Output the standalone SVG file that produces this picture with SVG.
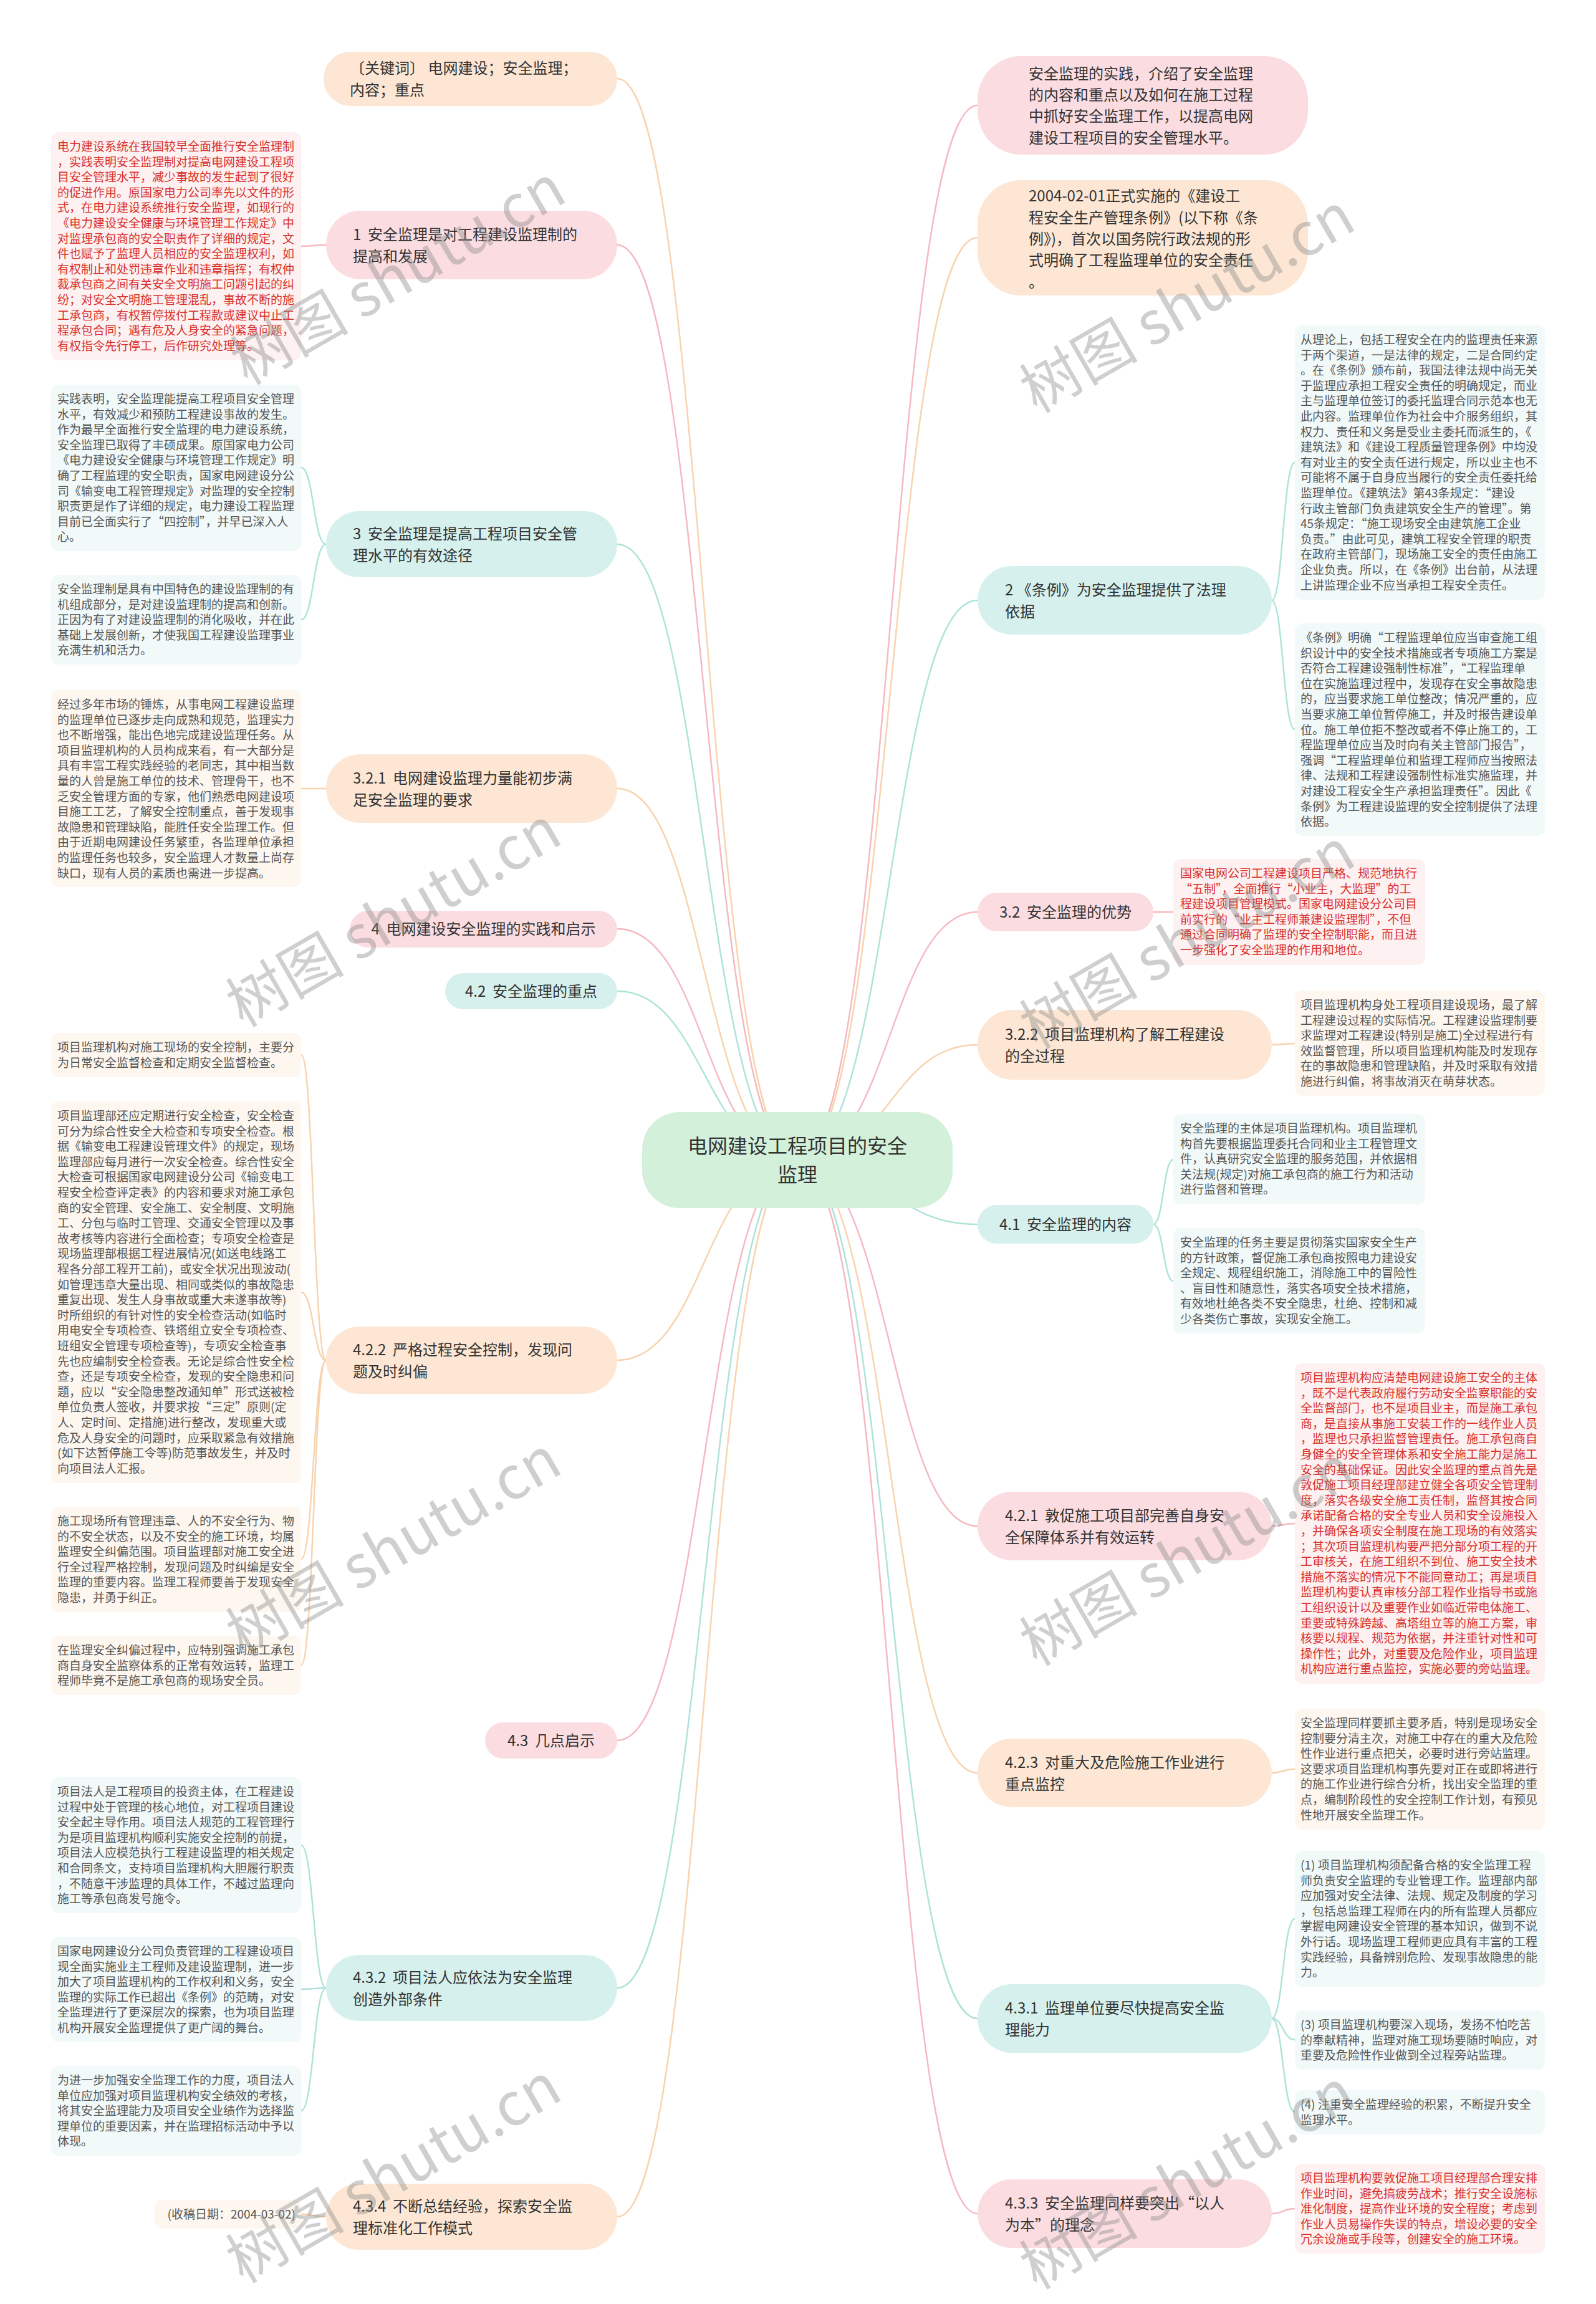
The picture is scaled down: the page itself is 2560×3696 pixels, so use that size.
<svg xmlns="http://www.w3.org/2000/svg" width="2560" height="3696" viewBox="0 0 2560 3696">
<style>
text{font-family:"Noto Sans CJK SC","Noto Sans",sans-serif;white-space:pre}
.nt{font-size:24px;fill:#333}
.rt{font-size:32px;fill:#333}
.lt{font-size:19px;fill:#555}
.lr{font-size:19px;fill:#d9302c}
.pk{fill:#fbdde1}
.pc{fill:#fde7d4}
.cy{fill:#d6f1ed}
.lpk{fill:#fdf1f1}
.lpc{fill:#fdf7f0}
.lcy{fill:#f1f9f9}
.cn path{fill:none;stroke-width:2.5}
.sp{stroke:#f5b9c1}
.sc{stroke:#f7d3ae}
.sy{stroke:#aee3d9}
.wm{font-size:95px;fill:#888;opacity:0.4}
</style>
<rect width="2560" height="3696" fill="#fff"/>
<g id="connectors" class="cn">
<path class="sc" d="M1279 1861 C1130 1861 1130 126 990 126"/>
<path class="sp" d="M1279 1861 C1130 1861 1130 393 990 393"/>
<path class="sy" d="M1279 1861 C1130 1861 1130 873 990 873"/>
<path class="sc" d="M1279 1861 C1130 1861 1130 1265 990 1265"/>
<path class="sp" d="M1279 1861 C1130 1861 1130 1490 990 1490"/>
<path class="sy" d="M1279 1861 C1130 1861 1130 1590 990 1590"/>
<path class="sc" d="M1279 1861 C1130 1861 1130 2182 990 2182"/>
<path class="sp" d="M1279 1861 C1130 1861 1130 2792 990 2792"/>
<path class="sy" d="M1279 1861 C1130 1861 1130 3189 990 3189"/>
<path class="sc" d="M1279 1861 C1130 1861 1130 3556 990 3556"/>
<path class="sp" d="M1279 1861 C1428 1861 1428 169 1568 169"/>
<path class="sc" d="M1279 1861 C1428 1861 1428 381 1568 381"/>
<path class="sy" d="M1279 1861 C1428 1861 1428 963 1568 963"/>
<path class="sp" d="M1279 1861 C1428 1861 1428 1463 1568 1463"/>
<path class="sc" d="M1279 1861 C1428 1861 1428 1676 1568 1676"/>
<path class="sy" d="M1279 1861 C1428 1861 1428 1964 1568 1964"/>
<path class="sp" d="M1279 1861 C1428 1861 1428 2448 1568 2448"/>
<path class="sc" d="M1279 1861 C1428 1861 1428 2844 1568 2844"/>
<path class="sy" d="M1279 1861 C1428 1861 1428 3238 1568 3238"/>
<path class="sp" d="M1279 1861 C1428 1861 1428 3551 1568 3551"/>
<path class="sp" d="M523 393 C503 393 503 395 483 395"/>
<path class="sy" d="M523 873 C503 873 503 750 483 750"/>
<path class="sy" d="M523 873 C503 873 503 994 483 994"/>
<path class="sc" d="M523 1265 C503 1265 503 1265 483 1265"/>
<path class="sc" d="M523 2182 C503 2182 503 1692 483 1692"/>
<path class="sc" d="M523 2182 C503 2182 503 2073 483 2073"/>
<path class="sc" d="M523 2182 C503 2182 503 2501 483 2501"/>
<path class="sc" d="M523 2182 C503 2182 503 2671 483 2671"/>
<path class="sy" d="M523 3189 C503 3189 503 2960 483 2960"/>
<path class="sy" d="M523 3189 C503 3189 503 3191 483 3191"/>
<path class="sy" d="M523 3189 C503 3189 503 3386 483 3386"/>
<path class="sc" d="M523 3556 C503 3556 503 3552 483 3552"/>
<path class="sy" d="M2040 963 C2058 963 2058 742 2077 742"/>
<path class="sy" d="M2040 963 C2058 963 2058 1170 2077 1170"/>
<path class="sp" d="M1850 1463 C1866 1463 1866 1463 1882 1463"/>
<path class="sc" d="M2040 1676 C2058 1676 2058 1674 2077 1674"/>
<path class="sy" d="M1850 1964 C1866 1964 1866 1860 1882 1860"/>
<path class="sy" d="M1850 1964 C1866 1964 1866 2055 1882 2055"/>
<path class="sp" d="M2040 2448 C2058 2448 2058 2444 2077 2444"/>
<path class="sc" d="M2040 2844 C2058 2844 2058 2838 2077 2838"/>
<path class="sy" d="M2040 3238 C2058 3238 2058 3078 2077 3078"/>
<path class="sy" d="M2040 3238 C2058 3238 2058 3272 2077 3272"/>
<path class="sy" d="M2040 3238 C2058 3238 2058 3388 2077 3388"/>
<path class="sp" d="M2040 3551 C2058 3551 2058 3543 2077 3543"/>
</g>
<g id="root">
<rect x="1030" y="1784" width="498" height="154" rx="60" fill="#d3f0da"/>
<text class="rt" text-anchor="middle" x="1279" y="1850">电网建设工程项目的安全<tspan x="1279" y="1896">监理</tspan></text>
</g>
<g id="nL0"><rect class="pc" x="519" y="83" width="471" height="87" rx="43.5"/>
<text class="nt" x="561" y="118">〔关键词〕 电网建设；安全监理；<tspan x="561" y="153">内容；重点</tspan></text></g>
<g id="nL1"><rect class="pk" x="523" y="338" width="467" height="110" rx="55"/>
<text class="nt" x="566" y="385">1  安全监理是对工程建设监理制的<tspan x="566" y="420">提高和发展</tspan></text></g>
<g id="nL2"><rect class="cy" x="523" y="820" width="467" height="106" rx="53"/>
<text class="nt" x="566" y="865">3  安全监理是提高工程项目安全管<tspan x="566" y="900">理水平的有效途径</tspan></text></g>
<g id="nL3"><rect class="pc" x="523" y="1210" width="467" height="110" rx="55"/>
<text class="nt" x="566" y="1257">3.2.1  电网建设监理力量能初步满<tspan x="566" y="1292">足安全监理的要求</tspan></text></g>
<g id="nL4"><rect class="pk" x="561" y="1461" width="429" height="59" rx="29.5"/>
<text class="nt" text-anchor="middle" x="775.5" y="1499">4  电网建设安全监理的实践和启示</text></g>
<g id="nL5"><rect class="cy" x="714" y="1561" width="276" height="58" rx="29"/>
<text class="nt" text-anchor="middle" x="852" y="1599">4.2  安全监理的重点</text></g>
<g id="nL6"><rect class="pc" x="523" y="2128" width="467" height="108" rx="54"/>
<text class="nt" x="566" y="2174">4.2.2  严格过程安全控制，发现问<tspan x="566" y="2209">题及时纠偏</tspan></text></g>
<g id="nL7"><rect class="pk" x="778" y="2763" width="212" height="58" rx="29"/>
<text class="nt" text-anchor="middle" x="884" y="2801">4.3  几点启示</text></g>
<g id="nL8"><rect class="cy" x="523" y="3136" width="467" height="106" rx="53"/>
<text class="nt" x="566" y="3181">4.3.2  项目法人应依法为安全监理<tspan x="566" y="3216">创造外部条件</tspan></text></g>
<g id="nL9"><rect class="pc" x="523" y="3503" width="467" height="106" rx="53"/>
<text class="nt" x="566" y="3548">4.3.4  不断总结经验，探索安全监<tspan x="566" y="3583">理标准化工作模式</tspan></text></g>
<g id="nR0"><rect class="pk" x="1568" y="90" width="530" height="158" rx="70"/>
<text class="nt" x="1650" y="127">安全监理的实践，介绍了安全监理<tspan x="1650" y="161">的内容和重点以及如何在施工过程</tspan><tspan x="1650" y="195">中抓好安全监理工作，以提高电网</tspan><tspan x="1650" y="230">建设工程项目的安全管理水平。</tspan></text></g>
<g id="nR1"><rect class="pc" x="1568" y="289" width="530" height="185" rx="70"/>
<text class="nt" x="1650" y="323">2004-02-01正式实施的《建设工<tspan x="1650" y="358">程安全生产管理条例》(以下称《条</tspan><tspan x="1650" y="392">例》)，首次以国务院行政法规的形</tspan><tspan x="1650" y="426">式明确了工程监理单位的安全责任</tspan><tspan x="1650" y="461">。</tspan></text></g>
<g id="nR2"><rect class="cy" x="1568" y="908" width="472" height="110" rx="55"/>
<text class="nt" x="1612" y="955">2 《条例》为安全监理提供了法理<tspan x="1612" y="990">依据</tspan></text></g>
<g id="nR3"><rect class="pk" x="1568" y="1432" width="282" height="62" rx="31"/>
<text class="nt" text-anchor="middle" x="1709" y="1472">3.2  安全监理的优势</text></g>
<g id="nR4"><rect class="pc" x="1568" y="1620" width="472" height="112" rx="56"/>
<text class="nt" x="1612" y="1668">3.2.2  项目监理机构了解工程建设<tspan x="1612" y="1703">的全过程</tspan></text></g>
<g id="nR5"><rect class="cy" x="1568" y="1933" width="282" height="62" rx="31"/>
<text class="nt" text-anchor="middle" x="1709" y="1973">4.1  安全监理的内容</text></g>
<g id="nR6"><rect class="pk" x="1568" y="2393" width="472" height="110" rx="55"/>
<text class="nt" x="1612" y="2440">4.2.1  敦促施工项目部完善自身安<tspan x="1612" y="2475">全保障体系并有效运转</tspan></text></g>
<g id="nR7"><rect class="pc" x="1568" y="2789" width="472" height="110" rx="55"/>
<text class="nt" x="1612" y="2836">4.2.3  对重大及危险施工作业进行<tspan x="1612" y="2871">重点监控</tspan></text></g>
<g id="nR8"><rect class="cy" x="1568" y="3183" width="472" height="110" rx="55"/>
<text class="nt" x="1612" y="3230">4.3.1  监理单位要尽快提高安全监<tspan x="1612" y="3265">理能力</tspan></text></g>
<g id="nR9"><rect class="pk" x="1568" y="3496" width="472" height="110" rx="55"/>
<text class="nt" x="1612" y="3543">4.3.3  安全监理同样要突出“以人<tspan x="1612" y="3578">为本”的理念</tspan></text></g>
<g id="leafL1"><rect class="lpk" x="82" y="212" width="401" height="366" rx="12"/>
<text class="lr" x="92" y="242">电力建设系统在我国较早全面推行安全监理制<tspan x="92" dy="24.6">，实践表明安全监理制对提高电网建设工程项</tspan><tspan x="92" dy="24.6">目安全管理水平，减少事故的发生起到了很好</tspan><tspan x="92" dy="24.6">的促进作用。原国家电力公司率先以文件的形</tspan><tspan x="92" dy="24.6">式，在电力建设系统推行安全监理，如现行的</tspan><tspan x="92" dy="24.6">《电力建设安全健康与环境管理工作规定》中</tspan><tspan x="92" dy="24.6">对监理承包商的安全职责作了详细的规定，文</tspan><tspan x="92" dy="24.6">件也赋予了监理人员相应的安全监理权利，如</tspan><tspan x="92" dy="24.6">有权制止和处罚违章作业和违章指挥；有权仲</tspan><tspan x="92" dy="24.6">裁承包商之间有关安全文明施工问题引起的纠</tspan><tspan x="92" dy="24.6">纷；对安全文明施工管理混乱，事故不断的施</tspan><tspan x="92" dy="24.6">工承包商，有权暂停拨付工程款或建议中止工</tspan><tspan x="92" dy="24.6">程承包合同；遇有危及人身安全的紧急问题，</tspan><tspan x="92" dy="24.6">有权指令先行停工，后作研究处理等。</tspan></text></g>
<g id="leafL2"><rect class="lcy" x="82" y="617" width="401" height="267" rx="12"/>
<text class="lt" x="92" y="647">实践表明，安全监理能提高工程项目安全管理<tspan x="92" dy="24.6">水平，有效减少和预防工程建设事故的发生。</tspan><tspan x="92" dy="24.6">作为最早全面推行安全监理的电力建设系统，</tspan><tspan x="92" dy="24.6">安全监理已取得了丰硕成果。原国家电力公司</tspan><tspan x="92" dy="24.6">《电力建设安全健康与环境管理工作规定》明</tspan><tspan x="92" dy="24.6">确了工程监理的安全职责，国家电网建设分公</tspan><tspan x="92" dy="24.6">司《输变电工程管理规定》对监理的安全控制</tspan><tspan x="92" dy="24.6">职责更是作了详细的规定，电力建设工程监理</tspan><tspan x="92" dy="24.6">目前已全面实行了“四控制”，并早已深入人</tspan><tspan x="92" dy="24.6">心。</tspan></text></g>
<g id="leafL3"><rect class="lcy" x="82" y="922" width="401" height="144" rx="12"/>
<text class="lt" x="92" y="952">安全监理制是具有中国特色的建设监理制的有<tspan x="92" dy="24.6">机组成部分，是对建设监理制的提高和创新。</tspan><tspan x="92" dy="24.6">正因为有了对建设监理制的消化吸收，并在此</tspan><tspan x="92" dy="24.6">基础上发展创新，才使我国工程建设监理事业</tspan><tspan x="92" dy="24.6">充满生机和活力。</tspan></text></g>
<g id="leafL4"><rect class="lpc" x="82" y="1107" width="401" height="316" rx="12"/>
<text class="lt" x="92" y="1137">经过多年市场的锤炼，从事电网工程建设监理<tspan x="92" dy="24.6">的监理单位已逐步走向成熟和规范，监理实力</tspan><tspan x="92" dy="24.6">也不断增强，能出色地完成建设监理任务。从</tspan><tspan x="92" dy="24.6">项目监理机构的人员构成来看，有一大部分是</tspan><tspan x="92" dy="24.6">具有丰富工程实践经验的老同志，其中相当数</tspan><tspan x="92" dy="24.6">量的人曾是施工单位的技术、管理骨干，也不</tspan><tspan x="92" dy="24.6">乏安全管理方面的专家，他们熟悉电网建设项</tspan><tspan x="92" dy="24.6">目施工工艺，了解安全控制重点，善于发现事</tspan><tspan x="92" dy="24.6">故隐患和管理缺陷，能胜任安全监理工作。但</tspan><tspan x="92" dy="24.6">由于近期电网建设任务繁重，各监理单位承担</tspan><tspan x="92" dy="24.6">的监理任务也较多，安全监理人才数量上尚存</tspan><tspan x="92" dy="24.6">缺口，现有人员的素质也需进一步提高。</tspan></text></g>
<g id="leafL5"><rect class="lpc" x="82" y="1657" width="401" height="71" rx="12"/>
<text class="lt" x="92" y="1687">项目监理机构对施工现场的安全控制，主要分<tspan x="92" dy="24.6">为日常安全监督检查和定期安全监督检查。</tspan></text></g>
<g id="leafL6"><rect class="lpc" x="82" y="1767" width="401" height="612" rx="12"/>
<text class="lt" x="92" y="1797">项目监理部还应定期进行安全检查，安全检查<tspan x="92" dy="24.6">可分为综合性安全大检查和专项安全检查。根</tspan><tspan x="92" dy="24.6">据《输变电工程建设管理文件》的规定，现场</tspan><tspan x="92" dy="24.6">监理部应每月进行一次安全检查。综合性安全</tspan><tspan x="92" dy="24.6">大检查可根据国家电网建设分公司《输变电工</tspan><tspan x="92" dy="24.6">程安全检查评定表》的内容和要求对施工承包</tspan><tspan x="92" dy="24.6">商的安全管理、安全施工、安全制度、文明施</tspan><tspan x="92" dy="24.6">工、分包与临时工管理、交通安全管理以及事</tspan><tspan x="92" dy="24.6">故考核等内容进行全面检查；专项安全检查是</tspan><tspan x="92" dy="24.6">现场监理部根据工程进展情况(如送电线路工</tspan><tspan x="92" dy="24.6">程各分部工程开工前)，或安全状况出现波动(</tspan><tspan x="92" dy="24.6">如管理违章大量出现、相同或类似的事故隐患</tspan><tspan x="92" dy="24.6">重复出现、发生人身事故或重大未遂事故等)</tspan><tspan x="92" dy="24.6">时所组织的有针对性的安全检查活动(如临时</tspan><tspan x="92" dy="24.6">用电安全专项检查、铁塔组立安全专项检查、</tspan><tspan x="92" dy="24.6">班组安全管理专项检查等)，专项安全检查事</tspan><tspan x="92" dy="24.6">先也应编制安全检查表。无论是综合性安全检</tspan><tspan x="92" dy="24.6">查，还是专项安全检查，发现的安全隐患和问</tspan><tspan x="92" dy="24.6">题，应以“安全隐患整改通知单”形式送被检</tspan><tspan x="92" dy="24.6">单位负责人签收，并要求按“三定”原则(定</tspan><tspan x="92" dy="24.6">人、定时间、定措施)进行整改，发现重大或</tspan><tspan x="92" dy="24.6">危及人身安全的问题时，应采取紧急有效措施</tspan><tspan x="92" dy="24.6">(如下达暂停施工令等)防范事故发生，并及时</tspan><tspan x="92" dy="24.6">向项目法人汇报。</tspan></text></g>
<g id="leafL7"><rect class="lpc" x="82" y="2417" width="401" height="169" rx="12"/>
<text class="lt" x="92" y="2447">施工现场所有管理违章、人的不安全行为、物<tspan x="92" dy="24.6">的不安全状态，以及不安全的施工环境，均属</tspan><tspan x="92" dy="24.6">监理安全纠偏范围。项目监理部对施工安全进</tspan><tspan x="92" dy="24.6">行全过程严格控制，发现问题及时纠编是安全</tspan><tspan x="92" dy="24.6">监理的重要内容。监理工程师要善于发现安全</tspan><tspan x="92" dy="24.6">隐患，并勇于纠正。</tspan></text></g>
<g id="leafL8"><rect class="lpc" x="82" y="2624" width="401" height="95" rx="12"/>
<text class="lt" x="92" y="2654">在监理安全纠偏过程中，应特别强调施工承包<tspan x="92" dy="24.6">商自身安全监察体系的正常有效运转，监理工</tspan><tspan x="92" dy="24.6">程师毕竟不是施工承包商的现场安全员。</tspan></text></g>
<g id="leafL9"><rect class="lcy" x="82" y="2851" width="401" height="218" rx="12"/>
<text class="lt" x="92" y="2881">项目法人是工程项目的投资主体，在工程建设<tspan x="92" dy="24.6">过程中处于管理的核心地位，对工程项目建设</tspan><tspan x="92" dy="24.6">安全起主导作用。项目法人规范的工程管理行</tspan><tspan x="92" dy="24.6">为是项目监理机构顺利实施安全控制的前提，</tspan><tspan x="92" dy="24.6">项目法人应模范执行工程建设监理的相关规定</tspan><tspan x="92" dy="24.6">和合同条文，支持项目监理机构大胆履行职责</tspan><tspan x="92" dy="24.6">，不随意干涉监理的具体工作，不越过监理向</tspan><tspan x="92" dy="24.6">施工等承包商发号施令。</tspan></text></g>
<g id="leafL10"><rect class="lcy" x="82" y="3107" width="401" height="169" rx="12"/>
<text class="lt" x="92" y="3137">国家电网建设分公司负责管理的工程建设项目<tspan x="92" dy="24.6">现全面实施业主工程师及建设监理制，进一步</tspan><tspan x="92" dy="24.6">加大了项目监理机构的工作权利和义务，安全</tspan><tspan x="92" dy="24.6">监理的实际工作已超出《条例》的范畴，对安</tspan><tspan x="92" dy="24.6">全监理进行了更深层次的探索，也为项目监理</tspan><tspan x="92" dy="24.6">机构开展安全监理提供了更广阔的舞台。</tspan></text></g>
<g id="leafL11"><rect class="lcy" x="82" y="3314" width="401" height="144" rx="12"/>
<text class="lt" x="92" y="3344">为进一步加强安全监理工作的力度，项目法人<tspan x="92" dy="24.6">单位应加强对项目监理机构安全绩效的考核，</tspan><tspan x="92" dy="24.6">将其安全监理能力及项目安全业绩作为选择监</tspan><tspan x="92" dy="24.6">理单位的重要因素，并在监理招标活动中予以</tspan><tspan x="92" dy="24.6">体现。</tspan></text></g>
<g id="leafL12"><rect class="lpc" x="248" y="3529" width="235" height="46" rx="12"/>
<text class="lt" text-anchor="end" x="474" y="3559">(收稿日期：2004-03-02)</text></g>
<g id="leafR1"><rect class="lcy" x="2077" y="522" width="401" height="440" rx="12"/>
<text class="lt" x="2086" y="552">从理论上，包括工程安全在内的监理责任来源<tspan x="2086" dy="24.6">于两个渠道，一是法律的规定，二是合同约定</tspan><tspan x="2086" dy="24.6">。在《条例》颁布前，我国法律法规中尚无关</tspan><tspan x="2086" dy="24.6">于监理应承担工程安全责任的明确规定，而业</tspan><tspan x="2086" dy="24.6">主与监理单位签订的委托监理合同示范本也无</tspan><tspan x="2086" dy="24.6">此内容。监理单位作为社会中介服务组织，其</tspan><tspan x="2086" dy="24.6">权力、责任和义务是受业主委托而派生的，《</tspan><tspan x="2086" dy="24.6">建筑法》和《建设工程质量管理条例》中均没</tspan><tspan x="2086" dy="24.6">有对业主的安全责任进行规定，所以业主也不</tspan><tspan x="2086" dy="24.6">可能将不属于自身应当履行的安全责任委托给</tspan><tspan x="2086" dy="24.6">监理单位。《建筑法》第43条规定：“建设</tspan><tspan x="2086" dy="24.6">行政主管部门负责建筑安全生产的管理”。第</tspan><tspan x="2086" dy="24.6">45条规定：“施工现场安全由建筑施工企业</tspan><tspan x="2086" dy="24.6">负责。”由此可见，建筑工程安全管理的职责</tspan><tspan x="2086" dy="24.6">在政府主管部门，现场施工安全的责任由施工</tspan><tspan x="2086" dy="24.6">企业负责。所以，在《条例》出台前，从法理</tspan><tspan x="2086" dy="24.6">上讲监理企业不应当承担工程安全责任。</tspan></text></g>
<g id="leafR2"><rect class="lcy" x="2077" y="1000" width="401" height="341" rx="12"/>
<text class="lt" x="2086" y="1030">《条例》明确“工程监理单位应当审查施工组<tspan x="2086" dy="24.6">织设计中的安全技术措施或者专项施工方案是</tspan><tspan x="2086" dy="24.6">否符合工程建设强制性标准”，“工程监理单</tspan><tspan x="2086" dy="24.6">位在实施监理过程中，发现存在安全事故隐患</tspan><tspan x="2086" dy="24.6">的，应当要求施工单位整改；情况严重的，应</tspan><tspan x="2086" dy="24.6">当要求施工单位暂停施工，并及时报告建设单</tspan><tspan x="2086" dy="24.6">位。施工单位拒不整改或者不停止施工的，工</tspan><tspan x="2086" dy="24.6">程监理单位应当及时向有关主管部门报告”，</tspan><tspan x="2086" dy="24.6">强调“工程监理单位和监理工程师应当按照法</tspan><tspan x="2086" dy="24.6">律、法规和工程建设强制性标准实施监理，并</tspan><tspan x="2086" dy="24.6">对建设工程安全生产承担监理责任”。因此《</tspan><tspan x="2086" dy="24.6">条例》为工程建设监理的安全控制提供了法理</tspan><tspan x="2086" dy="24.6">依据。</tspan></text></g>
<g id="leafR3"><rect class="lpk" x="1882" y="1378" width="404" height="170" rx="12"/>
<text class="lr" x="1893" y="1408">国家电网公司工程建设项目严格、规范地执行<tspan x="1893" dy="24.6">“五制”，全面推行“小业主，大监理”的工</tspan><tspan x="1893" dy="24.6">程建设项目管理模式。国家电网建设分公司目</tspan><tspan x="1893" dy="24.6">前实行的“业主工程师兼建设监理制”，不但</tspan><tspan x="1893" dy="24.6">通过合同明确了监理的安全控制职能，而且进</tspan><tspan x="1893" dy="24.6">一步强化了安全监理的作用和地位。</tspan></text></g>
<g id="leafR4"><rect class="lpc" x="2077" y="1589" width="401" height="169" rx="12"/>
<text class="lt" x="2086" y="1619">项目监理机构身处工程项目建设现场，最了解<tspan x="2086" dy="24.6">工程建设过程的实际情况。工程建设监理制要</tspan><tspan x="2086" dy="24.6">求监理对工程建设(特别是施工)全过程进行有</tspan><tspan x="2086" dy="24.6">效监督管理，所以项目监理机构能及时发现存</tspan><tspan x="2086" dy="24.6">在的事故隐患和管理缺陷，并及时采取有效措</tspan><tspan x="2086" dy="24.6">施进行纠偏，将事故消灭在萌芽状态。</tspan></text></g>
<g id="leafR5"><rect class="lcy" x="1882" y="1787" width="404" height="145" rx="12"/>
<text class="lt" x="1893" y="1817">安全监理的主体是项目监理机构。项目监理机<tspan x="1893" dy="24.6">构首先要根据监理委托合同和业主工程管理文</tspan><tspan x="1893" dy="24.6">件，认真研究安全监理的服务范围，并依据相</tspan><tspan x="1893" dy="24.6">关法规(规定)对施工承包商的施工行为和活动</tspan><tspan x="1893" dy="24.6">进行监督和管理。</tspan></text></g>
<g id="leafR6"><rect class="lcy" x="1882" y="1970" width="404" height="169" rx="12"/>
<text class="lt" x="1893" y="2000">安全监理的任务主要是贯彻落实国家安全生产<tspan x="1893" dy="24.6">的方针政策，督促施工承包商按照电力建设安</tspan><tspan x="1893" dy="24.6">全规定、规程组织施工，消除施工中的冒险性</tspan><tspan x="1893" dy="24.6">、盲目性和随意性，落实各项安全技术措施，</tspan><tspan x="1893" dy="24.6">有效地杜绝各类不安全隐患，杜绝、控制和减</tspan><tspan x="1893" dy="24.6">少各类伤亡事故，实现安全施工。</tspan></text></g>
<g id="leafR7"><rect class="lpk" x="2077" y="2187" width="401" height="514" rx="12"/>
<text class="lr" x="2086" y="2217">项目监理机构应清楚电网建设施工安全的主体<tspan x="2086" dy="24.6">，既不是代表政府履行劳动安全监察职能的安</tspan><tspan x="2086" dy="24.6">全监督部门，也不是项目业主，而是施工承包</tspan><tspan x="2086" dy="24.6">商，是直接从事施工安装工作的一线作业人员</tspan><tspan x="2086" dy="24.6">，监理也只承担监督管理责任。施工承包商自</tspan><tspan x="2086" dy="24.6">身健全的安全管理体系和安全施工能力是施工</tspan><tspan x="2086" dy="24.6">安全的基础保证。因此安全监理的重点首先是</tspan><tspan x="2086" dy="24.6">敦促施工项目经理部建立健全各项安全管理制</tspan><tspan x="2086" dy="24.6">度，落实各级安全施工责任制，监督其按合同</tspan><tspan x="2086" dy="24.6">承诺配备合格的安全专业人员和安全设施投入</tspan><tspan x="2086" dy="24.6">，并确保各项安全制度在施工现场的有效落实</tspan><tspan x="2086" dy="24.6">；其次项目监理机构要严把分部分项工程的开</tspan><tspan x="2086" dy="24.6">工审核关，在施工组织不到位、施工安全技术</tspan><tspan x="2086" dy="24.6">措施不落实的情况下不能同意动工；再是项目</tspan><tspan x="2086" dy="24.6">监理机构要认真审核分部工程作业指导书或施</tspan><tspan x="2086" dy="24.6">工组织设计以及重要作业如临近带电体施工、</tspan><tspan x="2086" dy="24.6">重要或特殊跨越、高塔组立等的施工方案，审</tspan><tspan x="2086" dy="24.6">核要以规程、规范为依据，并注重针对性和可</tspan><tspan x="2086" dy="24.6">操作性；此外，对重要及危险作业，项目监理</tspan><tspan x="2086" dy="24.6">机构应进行重点监控，实施必要的旁站监理。</tspan></text></g>
<g id="leafR8"><rect class="lpc" x="2077" y="2741" width="401" height="194" rx="12"/>
<text class="lt" x="2086" y="2771">安全监理同样要抓主要矛盾，特别是现场安全<tspan x="2086" dy="24.6">控制要分清主次，对施工中存在的重大及危险</tspan><tspan x="2086" dy="24.6">性作业进行重点把关，必要时进行旁站监理。</tspan><tspan x="2086" dy="24.6">这要求项目监理机构事先要对正在或即将进行</tspan><tspan x="2086" dy="24.6">的施工作业进行综合分析，找出安全监理的重</tspan><tspan x="2086" dy="24.6">点，编制阶段性的安全控制工作计划，有预见</tspan><tspan x="2086" dy="24.6">性地开展安全监理工作。</tspan></text></g>
<g id="leafR9"><rect class="lcy" x="2077" y="2969" width="401" height="218" rx="12"/>
<text class="lt" x="2086" y="2999">(1) 项目监理机构须配备合格的安全监理工程<tspan x="2086" dy="24.6">师负责安全监理的专业管理工作。监理部内部</tspan><tspan x="2086" dy="24.6">应加强对安全法律、法规、规定及制度的学习</tspan><tspan x="2086" dy="24.6">，包括总监理工程师在内的所有监理人员都应</tspan><tspan x="2086" dy="24.6">掌握电网建设安全管理的基本知识，做到不说</tspan><tspan x="2086" dy="24.6">外行话。现场监理工程师更应具有丰富的工程</tspan><tspan x="2086" dy="24.6">实践经验，具备辨别危险、发现事故隐患的能</tspan><tspan x="2086" dy="24.6">力。</tspan></text></g>
<g id="leafR10"><rect class="lcy" x="2077" y="3225" width="401" height="95" rx="12"/>
<text class="lt" x="2086" y="3255">(3) 项目监理机构要深入现场，发扬不怕吃苦<tspan x="2086" dy="24.6">的奉献精神，监理对施工现场要随时响应，对</tspan><tspan x="2086" dy="24.6">重要及危险性作业做到全过程旁站监理。</tspan></text></g>
<g id="leafR11"><rect class="lcy" x="2077" y="3353" width="401" height="71" rx="12"/>
<text class="lt" x="2086" y="3383">(4) 注重安全监理经验的积累，不断提升安全<tspan x="2086" dy="24.6">监理水平。</tspan></text></g>
<g id="leafR12"><rect class="lpk" x="2077" y="3471" width="401" height="144" rx="12"/>
<text class="lr" x="2086" y="3501">项目监理机构要敦促施工项目经理部合理安排<tspan x="2086" dy="24.6">作业时间，避免搞疲劳战术；推行安全设施标</tspan><tspan x="2086" dy="24.6">准化制度，提高作业环境的安全程度；考虑到</tspan><tspan x="2086" dy="24.6">作业人员易操作失误的特点，增设必要的安全</tspan><tspan x="2086" dy="24.6">冗余设施或手段等，创建安全的施工环境。</tspan></text></g>
<g id="watermarks">
<text class="wm" text-anchor="middle" transform="translate(655 470) rotate(-30)">树图 shutu.cn</text>
<text class="wm" text-anchor="middle" transform="translate(1921 515) rotate(-30)">树图 shutu.cn</text>
<text class="wm" text-anchor="middle" transform="translate(648 1500) rotate(-30)">树图 shutu.cn</text>
<text class="wm" text-anchor="middle" transform="translate(1921 1535) rotate(-30)">树图 shutu.cn</text>
<text class="wm" text-anchor="middle" transform="translate(648 2510) rotate(-30)">树图 shutu.cn</text>
<text class="wm" text-anchor="middle" transform="translate(1921 2525) rotate(-30)">树图 shutu.cn</text>
<text class="wm" text-anchor="middle" transform="translate(648 3515) rotate(-30)">树图 shutu.cn</text>
<text class="wm" text-anchor="middle" transform="translate(1921 3525) rotate(-30)">树图 shutu.cn</text>
</g>
</svg>
